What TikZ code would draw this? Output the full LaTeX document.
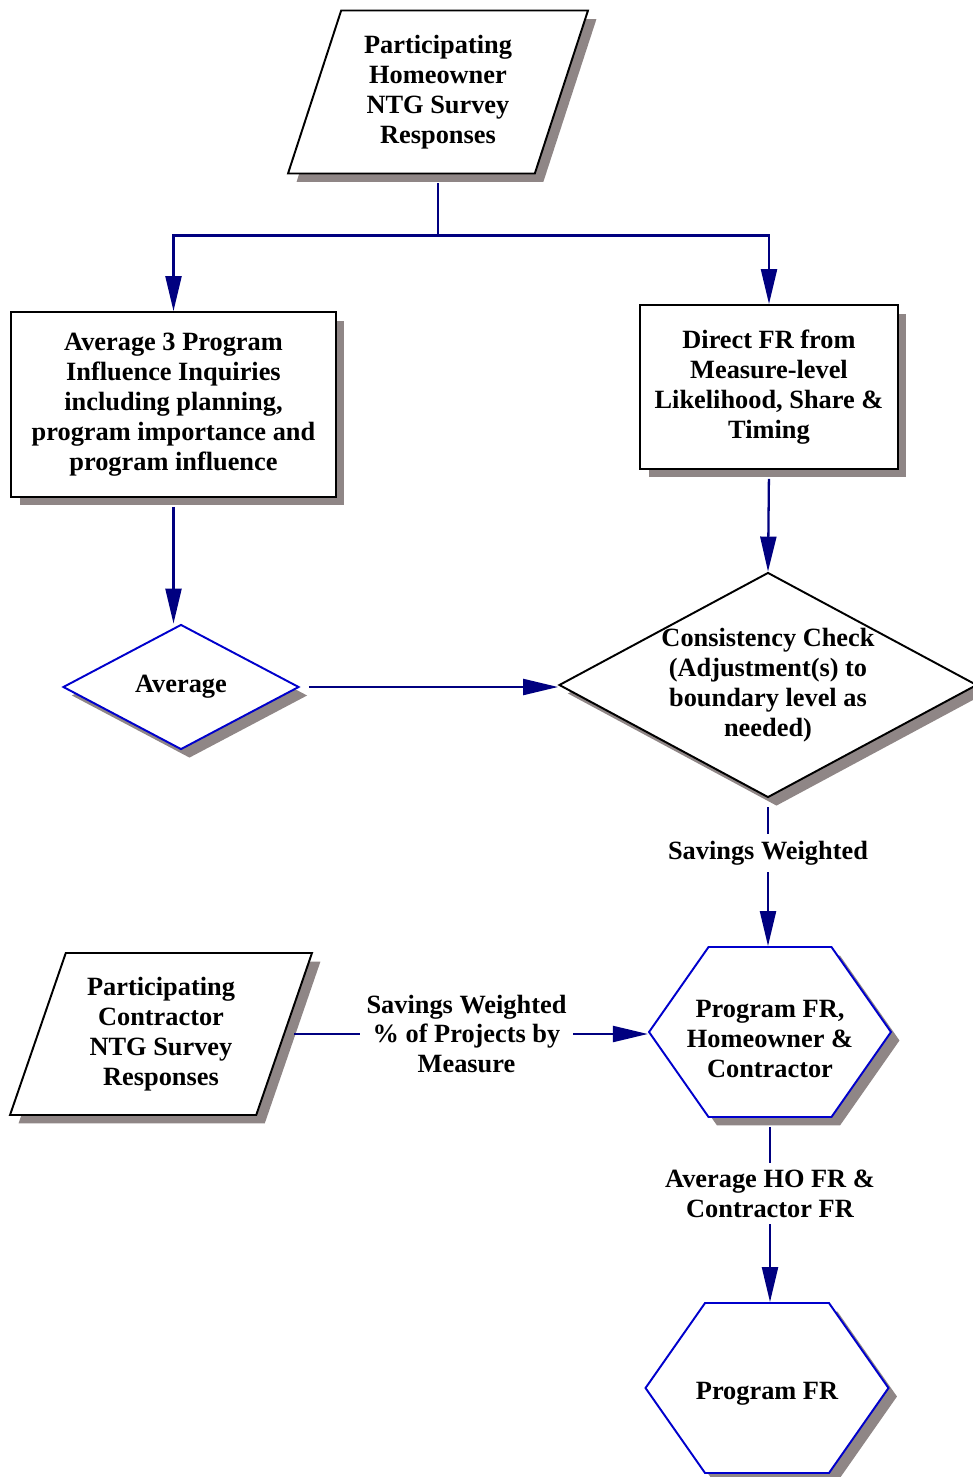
\documentclass[tikz,border=0pt]{standalone}
\usepackage{fontspec}
\setmainfont{Liberation Serif}
\usetikzlibrary{shapes.geometric,shapes.symbols,shadows,arrows.meta}

\definecolor{linenavy}{RGB}{0,0,128}
\definecolor{edgeblue}{RGB}{0,0,204}
\definecolor{shadowgray}{RGB}{143,134,134}

\tikzset{
  boxshadow/.style={drop shadow={shadow xshift=0.17cm, shadow yshift=-0.17cm, fill=shadowgray, opacity=1}},
  txt/.style={font=\fontsize{15}{17}\selectfont\bfseries, align=center},
  inputbox/.style={trapezium, trapezium left angle=67, trapezium right angle=113, trapezium stretches body=true,
    draw=black, line width=1.1pt, fill=white, boxshadow, txt},
  procbox/.style={rectangle, draw=black, line width=1.1pt, fill=white, boxshadow, txt},
  decide/.style={diamond, fill=white, line width=1.1pt, boxshadow, inner sep=0pt},
  hexbox/.style={signal, signal to=west and east, signal pointer angle=110, inner sep=0pt,
    draw=edgeblue, fill=white, line width=1.1pt, boxshadow},
  conn/.style={draw=linenavy, line width=1.3pt, -{Triangle[length=0.7cm, width=0.32cm]}, shorten <=0.18cm},
  lbl/.style={txt, fill=white, inner sep=4pt}
}

\begin{document}
\begin{tikzpicture}[x=0.02cm, y=-0.02cm]
  \useasboundingbox (0,0) rectangle (973,1477);

  % inputs and steps
  \node[inputbox, minimum width=6cm, minimum height=3.26cm] (home) at (438,92) {Participating\\Homeowner\\NTG Survey\\Responses};
  \node[procbox, minimum width=6.5cm, minimum height=3.7cm] (infl) at (173.5,404.5) {Average 3 Program\\Influence Inquiries\\including planning,\\program importance and\\program influence};
  \node[procbox, minimum width=5.16cm, minimum height=3.28cm] (direct) at (769,387) {Direct FR from\\Measure-level\\Likelihood, Share \&\\Timing};
  \node[decide, draw=edgeblue, minimum width=4.72cm, minimum height=2.5cm, txt] (avg) at (181,687) {Average};
  \node[decide, draw=black, minimum width=8.36cm, minimum height=4.5cm] (cons) at (768,685) {};
  \node[txt] (consText) at (cons) {Consistency Check\\(Adjustment(s) to\\boundary level as\\needed)};
  \node[hexbox, minimum width=4.84cm, minimum height=3.4cm] (mixed) at (770,1032) {};
  \node[txt, yshift=-4pt] (mixedText) at (mixed) {Program FR,\\Homeowner \&\\Contractor};
  \node[inputbox, trapezium left angle=66, trapezium right angle=114, minimum width=6.04cm, minimum height=3.24cm] (contr) at (161,1034) {Participating\\Contractor\\NTG Survey\\Responses};
  \node[hexbox, minimum width=4.86cm, minimum height=3.4cm] (final) at (767,1388) {};
  \node[txt, yshift=-3pt] (finalText) at (final) {Program FR};

  % connectors
  \path (home.south) ++(0,61) coordinate (split);
  \draw[conn] (home.south) -- (split) -| (infl.north);
  \draw[conn] (home.south) -- (split) -| (direct.north);
  \draw[conn] (infl.south) -- (infl.south |- avg.north);
  \draw[conn] (direct.south) -- (cons.north);
  \draw[conn] (avg.east) -- (avg.east -| cons.west);
  \draw[conn] (cons.south) -- node[lbl, pos=0.37] (lblSave) {Savings Weighted} (cons.south |- mixed.north);
  \draw[conn] (contr.east) -- node[lbl] (lblShare) {Savings Weighted\\\% of Projects by\\Measure} (contr.east -| mixed.west);
  \draw[conn] (mixed.south) -- node[lbl, pos=0.41] (lblAvg) {Average HO FR \&\\Contractor FR} (mixed.south |- final.north);
\end{tikzpicture}
\end{document}
